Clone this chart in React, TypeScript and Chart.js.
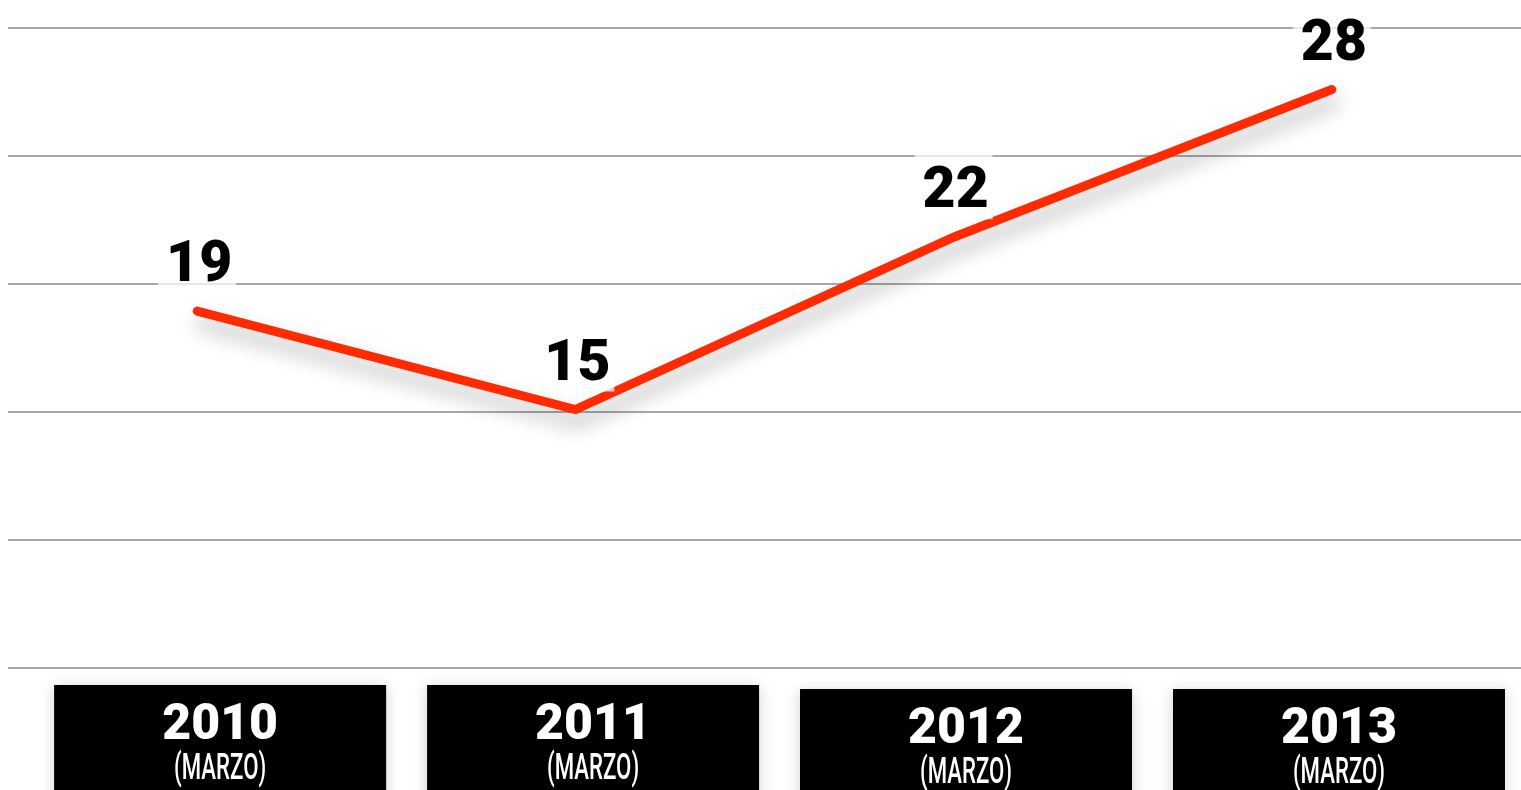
import React, { useEffect, useRef } from "react";
import { Chart, registerables } from "chart.js";

Chart.register(...registerables);

const CATEGORIES = ["2010", "2011", "2012", "2013"];
const SUB_LABELS = ["(MARZO)", "(MARZO)", "(MARZO)", "(MARZO)"];
const VALUES = [19, 15, 22, 28];
const Y_MIN = 4.5;
const Y_MAX = 30.5;

const lineShadow = {
  id: "lineShadow",
  beforeDatasetsDraw(chart: any) {
    const ctx = chart.ctx;
    ctx.save();
    ctx.shadowColor = "rgba(0,0,0,0.3)";
    ctx.shadowBlur = 20;
    ctx.shadowOffsetX = 3;
    ctx.shadowOffsetY = 12;
  },
  afterDatasetsDraw(chart: any) {
    chart.ctx.restore();
  },
};

const pointLabels = {
  id: "pointLabels",
  afterDatasetsDraw(chart: any) {
    const ctx = chart.ctx;
    const meta = chart.getDatasetMeta(0);
    ctx.save();
    meta.data.forEach((pt: any, i: number) => {
      const x = pt.x;
      const base = pt.y - 30;
      ctx.fillStyle = "rgba(255,255,255,0.72)";
      ctx.fillRect(x - 39, base - 56, 78, 68);
      ctx.fillStyle = "#000";
      ctx.font = "900 57px Roboto";
      ctx.textAlign = "center";
      ctx.textBaseline = "alphabetic";
      ctx.fillText(String(VALUES[i]), x + 2, base);
    });
    ctx.restore();
  },
};

const categoryBoxes = {
  id: "categoryBoxes",
  afterDraw(chart: any) {
    const ctx = chart.ctx;
    const xs = chart.scales.x;
    const bottom = chart.chartArea.bottom;
    ctx.save();
    CATEGORIES.forEach((cat, i) => {
      const cx = xs.getPixelForValue(i) + 23 - 5.3 * i;
      const top = bottom + 17 + (i >= 2 ? 4 : 0);
      const w = 332;
      ctx.save();
      ctx.shadowColor = "rgba(0,0,0,0.18)";
      ctx.shadowBlur = 14;
      ctx.shadowOffsetY = 2;
      ctx.fillStyle = "#000";
      ctx.fillRect(cx - w / 2, top, w, 140);
      ctx.restore();
      ctx.fillStyle = "#fff";
      ctx.textAlign = "center";
      ctx.textBaseline = "alphabetic";
      ctx.font = "900 50px Roboto";
      ctx.fillText(cat, cx, top + 54);
      ctx.save();
      ctx.translate(cx, top + 94);
      ctx.scale(0.6, 1);
      ctx.font = "500 37px Roboto";
      ctx.fillText(SUB_LABELS[i], 0, 0);
      ctx.restore();
    });
    ctx.restore();
  },
};

export default function App() {
  const ref = useRef<HTMLCanvasElement | null>(null);
  useEffect(() => {
    if (!ref.current) return;
    const chart = new Chart(ref.current, {
      type: "line",
      data: {
        labels: CATEGORIES,
        datasets: [
          {
            data: VALUES,
            borderColor: "#ff2a00",
            borderWidth: 9,
            borderCapStyle: "round",
            borderJoinStyle: "miter",
            pointRadius: 0,
            tension: 0,
            fill: false,
          },
        ],
      },
      options: {
        animation: false,
        responsive: true,
        maintainAspectRatio: false,
        layout: { padding: { left: 8, right: 0, top: 28, bottom: 122 } },
        plugins: {
          legend: { display: false },
          tooltip: { enabled: false },
        },
        scales: {
          x: { display: false, offset: true },
          y: {
            min: Y_MIN,
            max: Y_MAX,
            ticks: { display: false, count: 6 },
            border: { display: false },
            grid: { color: "#a8a8a8", lineWidth: 2, drawTicks: false },
          },
        },
      },
      plugins: [lineShadow, pointLabels, categoryBoxes],
    });
    return () => chart.destroy();
  }, []);
  return (
    <div style={{ position: "fixed", left: 0, top: 0, width: 1521, height: 790, background: "#fff" }}>
      <canvas ref={ref} />
    </div>
  );
}
